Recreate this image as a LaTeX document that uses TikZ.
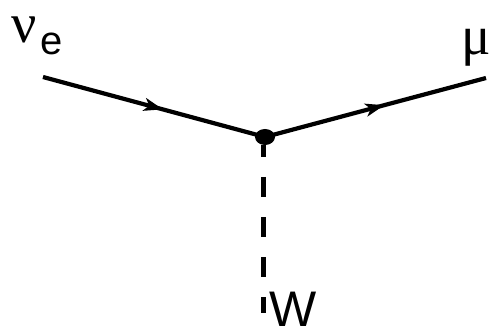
\documentclass[tikz,border=0pt]{standalone}
\usepackage{fontspec}
\setmainfont{Liberation Serif}
\newfontfamily\sansf{Liberation Sans}
\usetikzlibrary{arrows.meta,decorations.markings}
\begin{document}
\begin{tikzpicture}[x=1pt,y=-1pt,
  fermion/.style={line width=4.2pt,
    postaction={decorate},
    decoration={markings,mark=at position 0.54 with {\arrow{Stealth[length=19pt,width=13pt,inset=5pt]}}}},
  boson/.style={line width=5pt,dash pattern=on 20pt off 20pt,dash phase=8pt},
  lbl/.style={inner sep=0pt,anchor=base west}]
\useasboundingbox (0,0) rectangle (495,331);
\coordinate (a) at (43,77);
\coordinate (v) at (265,137);
\coordinate (b) at (486,78);
\coordinate (w) at (263,313);
\draw[fermion] (a) -- (v);
\draw[fermion] (v) -- (b);
\draw[boson] (263,145) -- (w);
\fill (v) ellipse [x radius=10pt,y radius=8pt];
\node[lbl] (nu) at (11,43) {\fontsize{56}{56}\selectfont ν};
\node[lbl] (e) at (40,55) {\sansf\fontsize{40}{40}\selectfont e};
\node[lbl] (mu) at (461,55) {\fontsize{55}{55}\selectfont μ};
\node[lbl] (W) at (269,326) {\sansf\fontsize{50}{50}\selectfont W};
\end{tikzpicture}
\end{document}
